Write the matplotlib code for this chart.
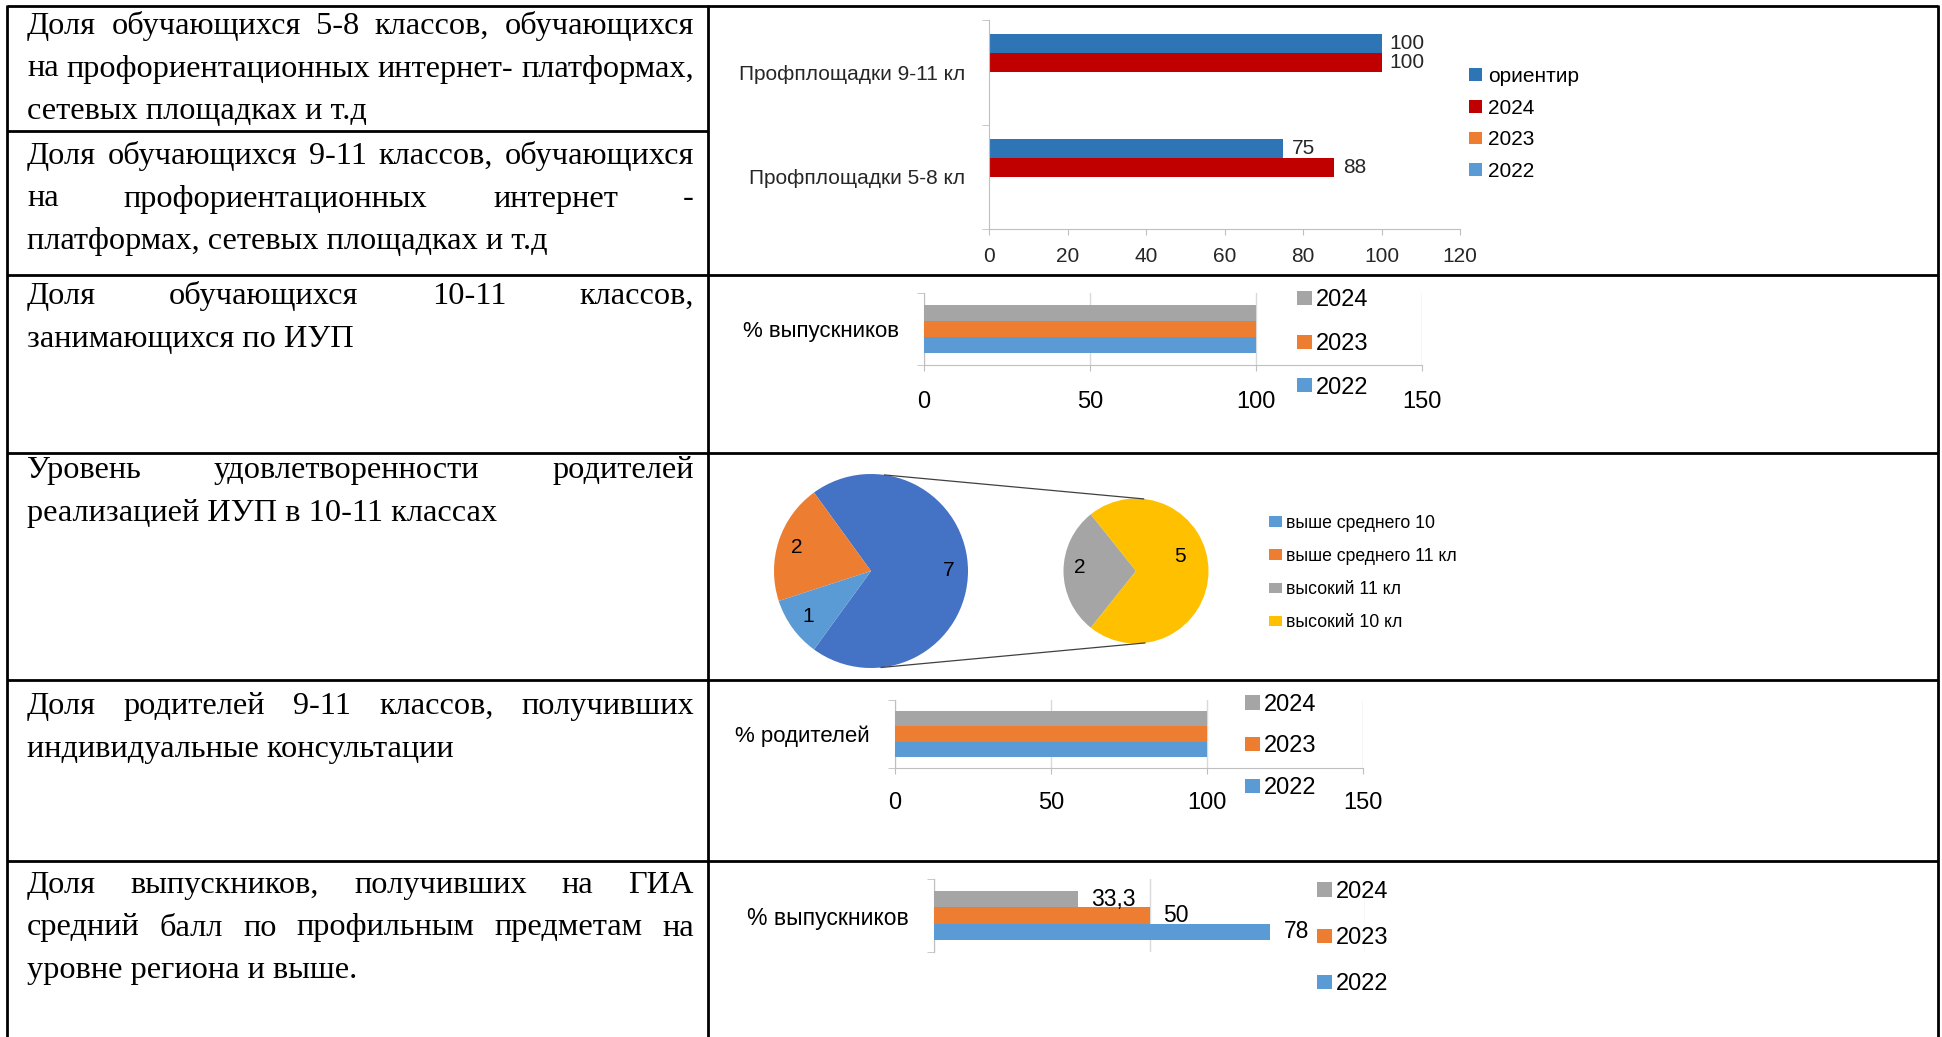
import numpy as np
import matplotlib
matplotlib.use('Agg')
from matplotlib import pyplot as plt

W, H = 1942, 1037

# left column of the table (line breaks as in the document)
row_lines = [
    ["Доля обучающихся 5-8 классов, обучающихся",
     "на профориентационных интернет- платформах,",
     "сетевых площадках и т.д"],
    ["Доля обучающихся 9-11 классов, обучающихся",
     "на профориентационных интернет -",
     "платформах, сетевых площадках и т.д"],
    ["Доля обучающихся 10-11 классов,",
     "занимающихся по ИУП"],
    ["Уровень удовлетворенности родителей",
     "реализацией ИУП в 10-11 классах"],
    ["Доля родителей 9-11 классов, получивших",
     "индивидуальные консультации"],
    ["Доля выпускников, получивших на ГИА",
     "средний балл по профильным предметам  на",
     "уровне региона и выше."],
]

# chart 1: profile platforms
prof_cats = ['Профплощадки 5-8 кл', 'Профплощадки 9-11 кл']
prof_names = ['ориентир', '2024', '2023', '2022']
prof_target = [75, 100]
prof_2024 = [88, 100]
prof_2023 = [0, 0]
prof_2022 = [0, 0]

years = ['2024', '2023', '2022']
# chart 2: individual curriculum
iup_vals = [100, 100, 100]
# chart 3: parents satisfaction (pie of pie)
pie1_labels = ['выше среднего 10', 'выше среднего 11 кл']
pie1_vals = [1, 2]
pie2_labels = ['высокий 11 кл', 'высокий 10 кл']
pie2_vals = [2, 5]
# chart 4: consultations
cons_vals = [100, 100, 100]
# chart 5: GIA
gia_vals = [33.3, 50, 78]
gia_text = ['33,3', '50', '78']

plt.rcParams['font.family'] = ['Liberation Sans', 'DejaVu Sans']

blue_dk = '#2E75B6'
red = '#C00000'
orange = '#ED7D31'
blue = '#5B9BD5'
gray = '#A5A5A5'
axgray = '#BFBFBF'

fig = plt.figure(figsize=(W / 100, H / 100), dpi=100)
fig.patch.set_facecolor('white')

bg = fig.add_axes([0, 0, 1, 1])
bg.set_xlim(0, W)
bg.set_ylim(H, 0)
bg.axis('off')


def px_axes(l, t, r, b):
    return fig.add_axes([l / W, 1 - b / H, (r - l) / W, (b - t) / H])


# table grid
lw = 2.0
for x in [7, 708, 1938]:
    bg.plot([x, x], [5, H], color='black', lw=lw, solid_capstyle='butt')
for y in [6, 275, 453, 680, 861]:
    bg.plot([7, 1938], [y, y], color='black', lw=lw, solid_capstyle='butt')
bg.plot([7, 708], [131, 131], color='black', lw=lw, solid_capstyle='butt')

# justified text in the left column
renderer = fig.canvas.get_renderer()
x0, x1 = 27, 694
first_base = [34, 164, 304, 478, 714, 893]
step = 42.5
tfont = dict(family='Liberation Serif', fontsize=23.3, color='black', va='baseline')
for r, lines in enumerate(row_lines):
    for k, line in enumerate(lines):
        y = first_base[r] + k * step
        words = line.split()
        if k == len(lines) - 1 or len(words) == 1:
            bg.text(x0, y, line, ha='left', **tfont)
            continue
        ts = [bg.text(0, y, w, ha='left', **tfont) for w in words]
        ws = [t.get_window_extent(renderer).width for t in ts]
        gap = (x1 - x0 - sum(ws)) / (len(words) - 1)
        xx = x0
        for t, w in zip(ts, ws):
            t.set_x(xx)
            xx += w + gap


def legend_at(ax, handles, labels, x, yc, fs, ls, hl, hh, tp):
    ax.legend(handles, labels, loc='center left', bbox_to_anchor=(x / W, 1 - yc / H),
              bbox_transform=fig.transFigure, frameon=False, fontsize=fs,
              labelspacing=ls, handlelength=hl, handleheight=hh, handletextpad=tp,
              borderpad=0, borderaxespad=0)


# ---- chart 1 ----
ax1 = px_axes(989, 20, 1460, 229)
ax1.set_facecolor('none')
h1 = 0.182
ycat = np.arange(len(prof_cats))
series1 = [prof_target, prof_2024, prof_2023, prof_2022]
cols1 = [blue_dk, red, orange, blue]
bars1 = []
for i, (vals, c) in enumerate(zip(series1, cols1)):
    b = ax1.barh(ycat + (1.5 - i) * h1, vals, height=h1, color=c)
    bars1.append(b)
    for yy, v in zip(ycat + (1.5 - i) * h1, vals):
        if v > 0:
            ax1.annotate(str(v), (v, yy), xytext=(6, 0), textcoords='offset points',
                         va='center', ha='left', fontsize=15, color='#262626')
ax1.set_xlim(0, 120)
ax1.set_ylim(-0.5, 1.5)
ax1.set_xticks(np.arange(0, 121, 20))
ax1.set_yticks(ycat)
ax1.set_yticklabels(prof_cats)
ax1.set_yticks([-0.5, 0.5, 1.5], minor=True)
for s in ['top', 'right']:
    ax1.spines[s].set_visible(False)
for s in ['left', 'bottom']:
    ax1.spines[s].set_color(axgray)
ax1.tick_params(axis='y', which='major', length=0, pad=17, labelsize=15, labelcolor='#262626')
ax1.tick_params(axis='y', which='minor', length=5, color=axgray)
ax1.tick_params(axis='x', length=4.5, color=axgray, pad=8.5, labelsize=15, labelcolor='#262626')
legend_at(ax1, [b[0] for b in bars1], prof_names, 1469, 124, 15, 0.61, 0.62, 0.55, 0.3)


# ---- bar charts by year ----
def year_chart(box, vals, xmax, xstep, cat, lab_fs, show_x=True, pad_x=12):
    ax = px_axes(*box)
    ax.set_facecolor('none')
    h = 0.222
    cols = [gray, orange, blue]
    bars = []
    for i, (v, c) in enumerate(zip(vals, cols)):
        bars.append(ax.barh([(1 - i) * h], [v], height=h, color=c, zorder=3))
    ax.set_xlim(0, xmax)
    ax.set_ylim(-0.5, 0.5)
    ax.set_xticks(np.arange(0, xmax + 1, xstep))
    ax.xaxis.grid(True, color='#D9D9D9', lw=1)
    ax.set_axisbelow(True)
    ax.set_yticks([0])
    ax.set_yticklabels([cat])
    ax.set_yticks([-0.5, 0.5], minor=True)
    for s in ['top', 'right']:
        ax.spines[s].set_visible(False)
    ax.spines['left'].set_color(axgray)
    ax.spines['bottom'].set_color(axgray)
    ax.tick_params(axis='y', which='major', length=0, pad=18, labelsize=lab_fs)
    ax.tick_params(axis='y', which='minor', length=5, color=axgray)
    if show_x:
        ax.tick_params(axis='x', length=4, color=axgray, pad=pad_x, labelsize=17)
    else:
        ax.spines['bottom'].set_visible(False)
        ax.tick_params(axis='x', length=0, labelbottom=False)
    return ax, bars


ax2, bars2 = year_chart((924, 293, 1422, 365), iup_vals, 150, 50, '% выпускников', 16, pad_x=15)
legend_at(ax2, [b[0] for b in bars2], years, 1297, 344, 17, 0.92, 0.64, 0.55, 0.15)

ax4, bars4 = year_chart((895, 700, 1363, 768), cons_vals, 150, 50, '% родителей', 16, pad_x=13)
legend_at(ax4, [b[0] for b in bars4], years, 1245, 746.5, 17, 0.83, 0.64, 0.55, 0.15)

ax5, bars5 = year_chart((934, 879, 1365, 952), gia_vals, 100, 50, '% выпускников', 16.5, show_x=False)
for b, t in zip(bars5, gia_text):
    p = b[0]
    ax5.annotate(t, (p.get_width(), p.get_y() + p.get_height() / 2), xytext=(10, 0),
                 textcoords='offset points', va='center', ha='left', fontsize=16.5, zorder=4)
legend_at(ax5, [b[0] for b in bars5], years, 1317, 938, 17, 1.02, 0.64, 0.55, 0.15)

# ---- chart 3: pie of pie ----
ax3 = px_axes(740, 460, 1240, 690)
ax3.set_facecolor('none')
c1 = (871, H - 571)
r1 = 97
c2 = (1136, H - 571)
r2 = 72.5
other = sum(pie2_vals)
main_vals = [other, pie1_vals[1], pie1_vals[0]]
main_cols = ['#4472C4', orange, blue]
frac_other = other / sum(main_vals)
w1, _ = ax3.pie(main_vals, colors=main_cols, startangle=-180 * frac_other,
                center=c1, radius=r1, wedgeprops=dict(linewidth=0))
w2, _ = ax3.pie(pie2_vals, colors=[gray, '#FFC000'],
                startangle=180 - 180 * pie2_vals[0] / other,
                center=c2, radius=r2, wedgeprops=dict(linewidth=0))
for wd, v in zip(w1, main_vals):
    a = np.deg2rad((wd.theta1 + wd.theta2) / 2)
    ax3.text(c1[0] + 0.8 * r1 * np.cos(a), c1[1] + 0.8 * r1 * np.sin(a), str(v),
             ha='center', va='center', fontsize=15)
for wd, v, dist, turn in zip(w2, pie2_vals, [0.78, 0.64], [-4, 18]):
    a = np.deg2rad((wd.theta1 + wd.theta2) / 2 + turn)
    ax3.text(c2[0] + dist * r2 * np.cos(a), c2[1] + dist * r2 * np.sin(a), str(v),
             ha='center', va='center', fontsize=15)
for ang1, ang2 in [(82, 84), (-84, -83)]:
    a1, a2 = np.deg2rad(ang1), np.deg2rad(ang2)
    ax3.plot([c1[0] + r1 * np.cos(a1), c2[0] + r2 * np.cos(a2)],
             [c1[1] + r1 * np.sin(a1), c2[1] + r2 * np.sin(a2)], color='#404040', lw=0.9)
ax3.set_xlim(740, 1240)
ax3.set_ylim(H - 690, H - 460)
ax3.axis('off')
legend_at(ax3, [w1[2], w1[1], w2[0], w2[1]], pie1_labels + pie2_labels,
          1269, 573, 12.7, 0.92, 0.72, 0.55, 0.25)

fig.savefig('out.png', dpi=100, facecolor='white')
